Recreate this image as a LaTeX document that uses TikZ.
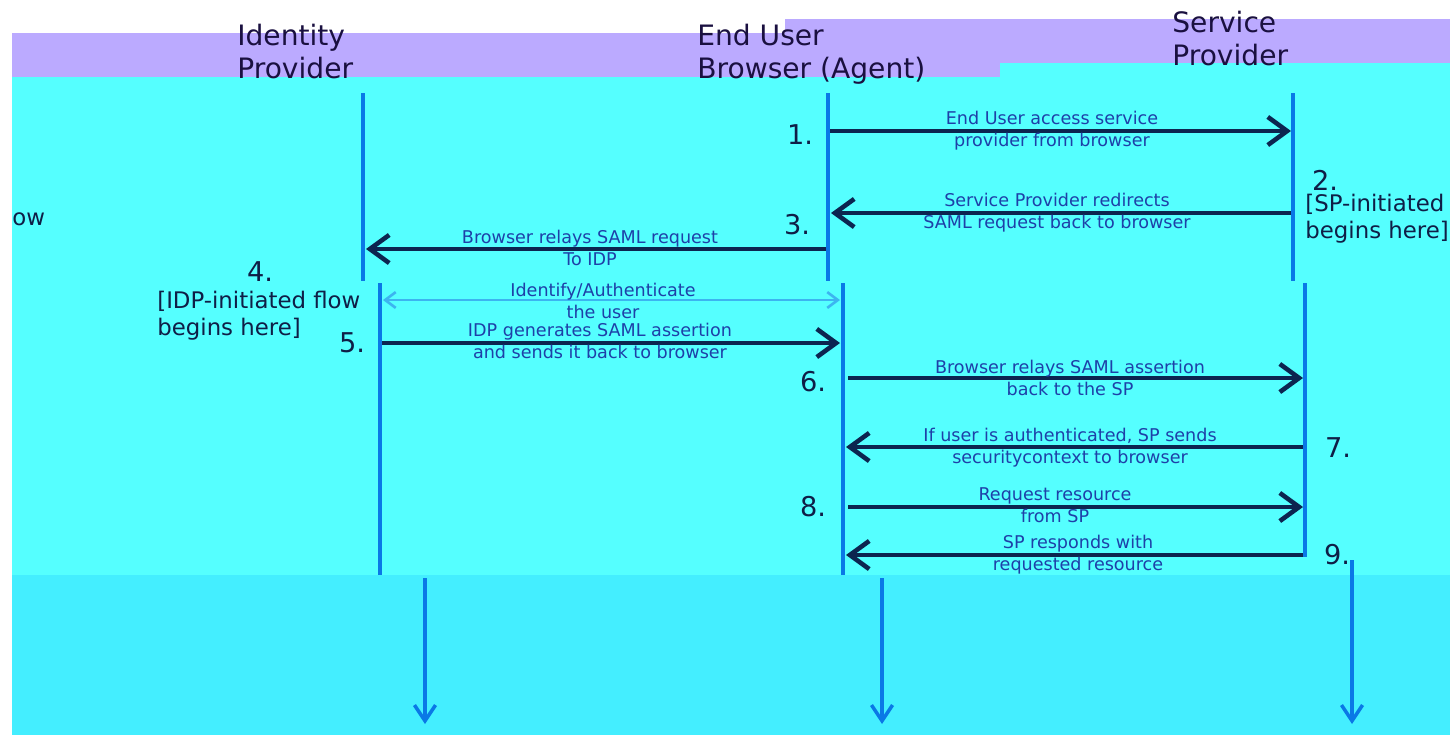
\documentclass[tikz,border=0pt]{standalone}
\usepackage{fontspec}
\setmainfont{DejaVu Sans}
\usetikzlibrary{arrows.meta}
\definecolor{bandpurple}{HTML}{BBAAFF}
\definecolor{bgcyan}{HTML}{55FFFF}
\definecolor{bglow}{HTML}{44EEFF}
\definecolor{lifeblue}{HTML}{0A78E6}
\definecolor{msgnavy}{HTML}{0C2550}
\definecolor{labelblue}{HTML}{1E40A8}
\definecolor{authblue}{HTML}{3CB4F0}
\definecolor{headtext}{HTML}{1A1040}
\definecolor{numtext}{HTML}{0F1E46}
\tikzset{
  lifeline/.style={draw=lifeblue, line width=2.3pt},
  lifeend/.style={lifeline, -{Straight Barb[length=9pt,width=12pt,line width=2pt]}},
  msg/.style={draw=msgnavy, line width=2.8pt, -{Straight Barb[length=11pt,width=16pt,line width=2.6pt]}},
  authmsg/.style={draw=authblue, line width=1.5pt, {Straight Barb[length=6pt,width=9pt]}-{Straight Barb[length=6pt,width=9pt]}},
  msglabel/.style={text=labelblue, font=\fontsize{10}{12.5}\selectfont, align=center, inner sep=0pt},
  headlabel/.style={text=headtext, font=\fontsize{16}{18.5}\selectfont, align=left, inner sep=0pt, anchor=north west},
  steplabel/.style={text=numtext, font=\fontsize{15.5}{17}\selectfont, inner sep=0pt},
  notelabel/.style={text=numtext, font=\fontsize{13}{15}\selectfont, align=left, inner sep=0pt, anchor=north west}
}
\begin{document}
\begin{tikzpicture}[x=0.02cm,y=-0.02cm]
\useasboundingbox (0,0) rectangle (1450,738);
% background bands
\fill[white] (0,0) rectangle (1450,738);
\fill[bgcyan] (12,77) rectangle (1450,575);
\fill[bgcyan] (1000,63) rectangle (1450,77);
\fill[bandpurple] (12,33) rectangle (1000,77);
\fill[bandpurple] (785,19) rectangle (1450,63);
\fill[bglow] (12,575) rectangle (1450,735);
% headers
\node[headlabel] (hidp) at (237,24) {Identity\\Provider};
\node[headlabel] (hbr) at (697,24) {End User\\Browser (Agent)};
\node[headlabel] (hsp) at (1172,11) {Service\\Provider};
% lifeline coordinates
\coordinate (i1) at (363,93);  \coordinate (i2) at (363,281);
\coordinate (i3) at (380,283); \coordinate (i4) at (380,575);
\coordinate (i5) at (425,578); \coordinate (i6) at (425,724);
\coordinate (b1) at (828,93);  \coordinate (b2) at (828,281);
\coordinate (b3) at (843,283); \coordinate (b4) at (843,575);
\coordinate (b5) at (882,578); \coordinate (b6) at (882,724);
\coordinate (s1) at (1293,93);  \coordinate (s2) at (1293,281);
\coordinate (s3) at (1305,283); \coordinate (s4) at (1305,557);
\coordinate (s5) at (1352,560); \coordinate (s6) at (1352,724);
\draw[lifeline] (i1) -- (i2);
\draw[lifeline] (i3) -- (i4);
\draw[lifeend] (i5) -- (i6);
\draw[lifeline] (b1) -- (b2);
\draw[lifeline] (b3) -- (b4);
\draw[lifeend] (b5) -- (b6);
\draw[lifeline] (s1) -- (s2);
\draw[lifeline] (s3) -- (s4);
\draw[lifeend] (s5) -- (s6);
% message end points
\coordinate (m1a) at (830,131);  \coordinate (m1b) at (1291,131);
\coordinate (m3a) at (1291,213); \coordinate (m3b) at (831,213);
\coordinate (m4a) at (826,249);  \coordinate (m4b) at (366,249);
\coordinate (m5a) at (383,300);  \coordinate (m5b) at (840,300);
\coordinate (m6a) at (382,343);  \coordinate (m6b) at (840,343);
\coordinate (m7a) at (848,378);  \coordinate (m7b) at (1303,378);
\coordinate (m8a) at (1303,447); \coordinate (m8b) at (846,447);
\coordinate (m9a) at (848,507);  \coordinate (m9b) at (1303,507);
\coordinate (m10a) at (1303,555); \coordinate (m10b) at (846,555);
\draw[msg] (m1a) -- (m1b);
\draw[msg] (m3a) -- (m3b);
\draw[msg] (m4a) -- (m4b);
\draw[authmsg] (m5a) -- (m5b);
\draw[msg] (m6a) -- (m6b);
\draw[msg] (m7a) -- (m7b);
\draw[msg] (m8a) -- (m8b);
\draw[msg] (m9a) -- (m9b);
\draw[msg] (m10a) -- (m10b);
% message labels
\node[msglabel] (l1) at (1052,131) {End User access service\\provider from browser};
\node[msglabel] (l3) at (1057,213) {Service Provider redirects\\SAML request back to browser};
\node[msglabel] (l4) at (590,248) {Browser relays SAML request\\To IDP};
\node[msglabel] (l5) at (603,301) {Identify/Authenticate\\the user};
\node[msglabel] (l6) at (600,341) {IDP generates SAML assertion\\and sends it back to browser};
\node[msglabel] (l7) at (1070,378) {Browser relays SAML assertion\\back to the SP};
\node[msglabel] (l8) at (1070,448) {If user is authenticated, SP sends\\securitycontext to browser};
\node[msglabel] (l9) at (1055,505) {Request resource\\from SP};
\node[msglabel] (l10) at (1078,555) {SP responds with\\requested resource};
% step numbers
\node[steplabel] (n1) at (800,135) {1.};
\node[steplabel] (n2) at (1325,180) {2.};
\node[steplabel] (n3) at (797,225) {3.};
\node[steplabel] (n4) at (260,272) {4.};
\node[steplabel] (n5) at (352,343) {5.};
\node[steplabel] (n6) at (813,382) {6.};
\node[steplabel] (n7) at (1338,448) {7.};
\node[steplabel] (n8) at (813,507) {8.};
\node[steplabel] (n9) at (1337,555) {9.};
% notes
\node[notelabel] (nsp) at (1305,194) {[SP-initiated\\begins here]};
\node[notelabel] (nidp) at (157,291) {[IDP-initiated flow\\begins here]};
\node[notelabel] (now) at (12,212) {ow};
\end{tikzpicture}
\end{document}
